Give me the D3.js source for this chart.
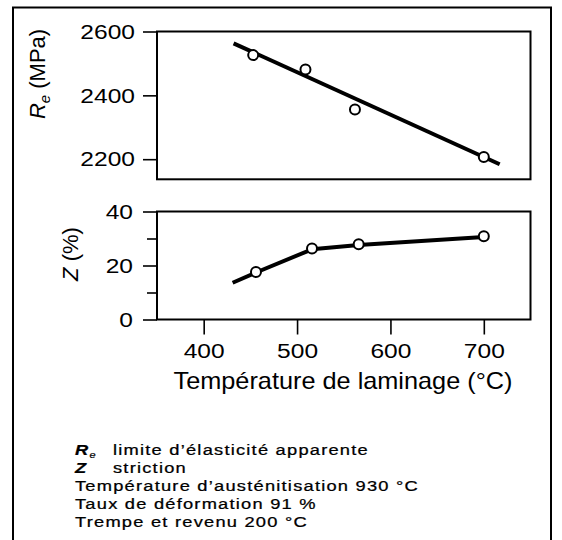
<!DOCTYPE html>
<html><head><meta charset="utf-8">
<script src="https://cdn.jsdelivr.net/npm/d3@7"></script>
<style>body{margin:0;background:#fff} svg{display:block}</style>
</head><body>
<script>
// ---- data ----
const tempTicks = [400, 500, 600, 700];
const reTicks = [2200, 2400, 2600];
const zTicks = [0, 20, 40];
const zMinorTicks = [10, 30];
const tempDomain = [350, 750];
const reDomain = [2137, 2600];
const zDomain = [0, 40];
const reTemps = [453, 509, 562, 700];
const reValues = [2526, 2481, 2356, 2207];
const reFitTemps = [432, 717];
const reFitValues = [2563, 2184];
const zTemps = [456, 516, 566, 700];
const zValues = [17.6, 26.3, 27.9, 30.8];
const zCurveTemps = [431, 456, 516, 566, 700];
const zCurveValues = [13.6, 17.4, 26.0, 27.6, 30.6];
const xTitle = "Température de laminage (°C)";
const noteLines = ["Température d\u2019austénitisation 930 °C", "Taux de déformation 91 %", "Trempe et revenu 200 °C"];

const W = 562, H = 540;
const FONT = "'Liberation Sans', Arial, Helvetica, sans-serif";
const svg = d3.select("body").append("svg").attr("width", W).attr("height", H)
  .style("font-family", FONT);

// outer border
svg.append("rect").attr("x", 13).attr("y", 7.5).attr("width", 538).attr("height", 540)
  .attr("fill", "none").attr("stroke", "#000").attr("stroke-width", 2);

const x = d3.scaleLinear().domain(tempDomain).range([157, 530.5]);
const yRe = d3.scaleLinear().domain(reDomain).range([179.3, 31.5]);
const yZ = d3.scaleLinear().domain(zDomain).range([319.5, 211.5]);

const TSX = 1.17; // horizontal widening of the scanned lettering

function frame(ys) {
  svg.append("rect")
    .attr("x", x(tempDomain[0])).attr("y", ys(ys.domain()[1]))
    .attr("width", x(tempDomain[1]) - x(tempDomain[0]))
    .attr("height", ys(ys.domain()[0]) - ys(ys.domain()[1]))
    .attr("fill", "none").attr("stroke", "#000").attr("stroke-width", 2);
}
function styleAxis(g) {
  g.select(".domain").remove();
  g.selectAll("line").attr("stroke", "#000").attr("stroke-width", 1.6);
  g.selectAll("text").attr("font-size", 21).attr("font-family", FONT).attr("fill", "#000")
    .each(function () {
      const t = d3.select(this);
      const ox = +t.attr("x") || 0;
      t.attr("x", ox / TSX).attr("transform", `scale(${TSX},1)`);
    });
}

// top panel
frame(yRe);
svg.append("g").attr("transform", `translate(${x(tempDomain[0])},0)`)
  .call(d3.axisLeft(yRe).tickValues(reTicks).tickSize(14).tickPadding(8).tickFormat(d3.format("d")))
  .call(styleAxis);

const line = d3.line();
svg.append("path")
  .attr("d", line(reFitTemps.map((t, i) => [x(t), yRe(reFitValues[i])])))
  .attr("fill", "none").attr("stroke", "#000").attr("stroke-width", 4).attr("stroke-linecap", "butt");
svg.append("g").selectAll("circle").data(reTemps).join("circle")
  .attr("cx", d => x(d)).attr("cy", (d, i) => yRe(reValues[i])).attr("r", 5)
  .attr("fill", "#fff").attr("stroke", "#000").attr("stroke-width", 2);

// bottom panel
frame(yZ);
svg.append("g").attr("transform", `translate(${x(tempDomain[0])},0)`)
  .call(d3.axisLeft(yZ).tickValues(zTicks).tickSize(14).tickPadding(10).tickFormat(d3.format("d")))
  .call(styleAxis);
svg.append("g").attr("transform", `translate(${x(tempDomain[0])},0)`)
  .call(d3.axisLeft(yZ).tickValues(zMinorTicks).tickSize(10).tickFormat(""))
  .call(styleAxis);
svg.append("g").attr("transform", `translate(0,${yZ(0)})`)
  .call(d3.axisBottom(x).tickValues(tempTicks).tickSize(15).tickPadding(9).tickFormat(d3.format("d")))
  .call(styleAxis);

svg.append("path")
  .attr("d", line(zCurveTemps.map((t, i) => [x(t), yZ(zCurveValues[i])])))
  .attr("fill", "none").attr("stroke", "#000").attr("stroke-width", 4).attr("stroke-linejoin", "round");
svg.append("g").selectAll("circle").data(zTemps).join("circle")
  .attr("cx", d => x(d)).attr("cy", (d, i) => yZ(zValues[i])).attr("r", 5)
  .attr("fill", "#fff").attr("stroke", "#000").attr("stroke-width", 2);

// y labels (rotated)
const reLab = svg.append("text").attr("transform", "translate(45,74) rotate(-90)")
  .attr("text-anchor", "middle").attr("font-size", 22);
reLab.append("tspan").attr("font-style", "italic").text("R");
reLab.append("tspan").attr("font-style", "italic").attr("font-size", 15).attr("dy", 5).text("e");
reLab.append("tspan").attr("dy", -5).text(" (MPa)");

const zLab = svg.append("text").attr("transform", "translate(78,254) rotate(-90)")
  .attr("text-anchor", "middle").attr("font-size", 22);
zLab.append("tspan").attr("font-style", "italic").text("Z");
zLab.append("tspan").text(" (%)");

// x title
svg.append("text").attr("transform", "translate(343,389) scale(1.1,1)").attr("text-anchor", "middle")
  .attr("font-size", 23).text(xTitle);

// notes
const NSX = 1.22, fs = 15, ls = 1;
function note(xp, yp) {
  return svg.append("g").attr("transform", `translate(${xp},${yp}) scale(${NSX},1)`)
    .append("text").attr("font-size", fs).attr("letter-spacing", ls)
    .attr("stroke", "#000").attr("stroke-width", 0.25);
}
const nx = 75, n2 = 113, ny0 = 455, dyN = 18;
const l1 = note(nx, ny0);
l1.append("tspan").attr("font-style", "italic").attr("font-weight", "bold").text("R");
l1.append("tspan").attr("font-style", "italic").attr("font-size", 9).attr("dy", 3).text("e");
note(n2, ny0).text("limite d\u2019élasticité apparente");
note(nx, ny0 + dyN).attr("font-style", "italic").attr("font-weight", "bold").text("Z");
note(n2, ny0 + dyN).text("striction");
noteLines.forEach((s, i) => note(nx, ny0 + (i + 2) * dyN).text(s));
</script>
</body></html>
